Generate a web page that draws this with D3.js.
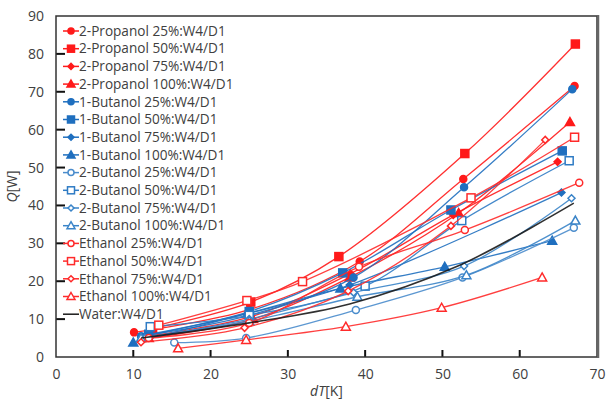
<!DOCTYPE html>
<html>
<head>
<meta charset="utf-8">
<script src="https://cdn.jsdelivr.net/npm/d3@7"></script>
<style>
  body { margin: 0; background: #fff; }
  text { font-family: "Open Sans", "Liberation Sans", sans-serif; }
</style>
</head>
<body>
<div id="chart-area"></div>
<script>
// series names, in legend order
var seriesNames = [
    "2-Propanol 25%:W4/D1", "2-Propanol 50%:W4/D1", "2-Propanol 75%:W4/D1", "2-Propanol 100%:W4/D1",
    "1-Butanol 25%:W4/D1", "1-Butanol 50%:W4/D1", "1-Butanol 75%:W4/D1", "1-Butanol 100%:W4/D1",
    "2-Butanol 25%:W4/D1", "2-Butanol 50%:W4/D1", "2-Butanol 75%:W4/D1", "2-Butanol 100%:W4/D1",
    "Ethanol 25%:W4/D1", "Ethanol 50%:W4/D1", "Ethanol 75%:W4/D1", "Ethanol 100%:W4/D1",
    "Water:W4/D1"
];

// dT [K] values, one array per series
var dT = [
    [10.1, 25.0, 39.3, 52.7, 67.1],
    [12.5, 25.2, 36.6, 52.9, 67.2],
    [11.5, 25.0, 38.1, 51.4, 64.9],
    [12.0, 25.5, 38.0, 52.1, 66.5],
    [11.0, 25.0, 38.5, 52.8, 66.8],
    [12.0, 25.0, 37.1, 51.1, 65.5],
    [11.5, 24.8, 38.0, 65.4],
    [10.0, 24.8, 36.8, 50.3, 64.2],
    [15.3, 24.6, 38.8, 52.6, 67.0],
    [12.2, 25.0, 40.0, 52.5, 66.4],
    [11.5, 25.0, 38.5, 52.8, 66.7],
    [11.0, 25.0, 39.0, 53.1, 67.2],
    [12.0, 25.0, 39.2, 52.9, 67.7],
    [13.3, 24.7, 31.9, 53.7, 67.1],
    [11.0, 24.4, 37.8, 51.1, 63.3],
    [15.8, 24.6, 37.5, 49.9, 62.9],
    [11.0, 25.0, 38.0, 52.0, 67.0]
];

// Q [W] values
var Q = [
    [6.5, 12.5, 25.2, 47.0, 71.5],
    [7.5, 14.5, 26.5, 53.7, 82.6],
    [5.5, 10.5, 22.0, 37.5, 51.5],
    [5.0, 10.0, 21.0, 38.0, 62.0],
    [5.5, 11.0, 21.0, 44.8, 70.7],
    [6.0, 12.0, 22.2, 38.8, 54.4],
    [5.5, 11.5, 19.0, 43.4],
    [3.8, 11.5, 18.1, 23.8, 30.7],
    [3.8, 5.0, 12.4, 21.0, 34.1],
    [8.0, 11.0, 18.7, 36.0, 51.8],
    [5.0, 10.0, 17.0, 24.0, 41.9],
    [5.0, 9.5, 15.9, 21.6, 36.0],
    [5.0, 9.0, 23.8, 33.5, 46.0],
    [8.4, 14.9, 19.9, 42.0, 58.0],
    [3.9, 7.7, 17.4, 34.6, 57.3],
    [2.3, 4.5, 8.0, 13.0, 21.0],
    [5.0, 9.0, 14.0, 24.0, 40.6]
];

var markerShapes = ["circle", "square", "diamond", "triangle",
    "circle", "square", "diamond", "triangle",
    "circle", "square", "diamond", "triangle",
    "circle", "square", "diamond", "triangle", "none"];
var markerFilled = [true, true, true, true, true, true, true, true,
    false, false, false, false, false, false, false, false, false];
var seriesColors = ["#ff1a1a", "#ff1a1a", "#ff1a1a", "#ff1a1a",
    "#1f6fbf", "#1f6fbf", "#1f6fbf", "#1f6fbf",
    "#4a8ccc", "#2f7bc4", "#3a84c8", "#3a84c8",
    "#ff2a2a", "#ff2a2a", "#ff2a2a", "#ff2a2a", "#1a1a1a"];

var xTicks = [0, 10, 20, 30, 40, 50, 60, 70];
var yTicks = [0, 10, 20, 30, 40, 50, 60, 70, 80, 90];

var data = seriesNames.map(function (name, i) {
    return {
        name: name,
        shape: markerShapes[i],
        filled: markerFilled[i],
        color: seriesColors[i],
        points: dT[i].map(function (x, j) { return { x: x, y: Q[i][j] }; })
    };
});

var margin = { left: 56, right: 10, top: 16, bottom: 43 };
var fullW = 607, fullH = 400;
var width = fullW - margin.left - margin.right;
var height = fullH - margin.top - margin.bottom;

var svg = d3.select("#chart-area").append("svg")
    .attr("width", fullW)
    .attr("height", fullH);

var g = svg.append("g")
    .attr("transform", `translate(${margin.left}, ${margin.top})`);

var x = d3.scaleLinear().domain([0, 70]).range([0, width]);
var y = d3.scaleLinear().domain([0, 90]).range([height, 0]);

// axes with inside ticks
var xAxis = g.append("g")
    .attr("transform", `translate(0, ${height})`)
    .call(d3.axisBottom(x).tickValues(xTicks).tickSize(0).tickPadding(12));
var yAxis = g.append("g")
    .call(d3.axisLeft(y).tickValues(yTicks).tickSize(0).tickPadding(12));
[xAxis, yAxis].forEach(function (a) {
    a.select(".domain").remove();
    a.selectAll("text").attr("font-size", "14px").attr("fill", "#404040")
        .style("font-family", "'Open Sans', sans-serif");
});

g.selectAll(".xtick")
    .data(xTicks.slice(1, -1))
    .enter().append("line")
    .attr("x1", function (d) { return x(d); })
    .attr("x2", function (d) { return x(d); })
    .attr("y1", height)
    .attr("y2", height - 7)
    .attr("stroke", "#111")
    .attr("stroke-width", 2);

g.selectAll(".ytick")
    .data(yTicks.slice(1, -1))
    .enter().append("line")
    .attr("x1", 0)
    .attr("x2", 9)
    .attr("y1", function (d) { return y(d); })
    .attr("y2", function (d) { return y(d); })
    .attr("stroke", "#111")
    .attr("stroke-width", 2);

// frame
g.append("rect")
    .attr("width", width)
    .attr("height", height)
    .attr("fill", "none")
    .attr("stroke", "#333")
    .attr("stroke-width", 1.5);
g.append("line")
    .attr("x1", width + 1).attr("x2", width + 1)
    .attr("y1", -1).attr("y2", height + 1)
    .attr("stroke", "#666").attr("stroke-width", 2.5);

// axis titles
svg.append("text")
    .attr("transform", `translate(17, ${margin.top + height / 2}) rotate(-90)`)
    .attr("text-anchor", "middle")
    .attr("font-size", "14px")
    .attr("fill", "#404040")
    .html("<tspan font-style='italic'>Q</tspan>[W]");
svg.append("text")
    .attr("x", margin.left + width / 2)
    .attr("y", 396)
    .attr("text-anchor", "middle")
    .attr("font-size", "14px")
    .attr("fill", "#404040")
    .html("<tspan font-style='italic'>dT</tspan>[K]");

// marker drawing helper
function drawMarker(sel, shape, filled, color, size) {
    var s = size / 2;
    var fill = filled ? color : "#fff";
    if (shape === "circle") {
        sel.append("circle").attr("r", s).attr("fill", fill).attr("stroke", color).attr("stroke-width", 1.5);
    } else if (shape === "square") {
        sel.append("rect").attr("x", -s).attr("y", -s).attr("width", size).attr("height", size)
            .attr("fill", fill).attr("stroke", color).attr("stroke-width", 1.5);
    } else if (shape === "diamond") {
        sel.append("path").attr("d", `M0,${-s}L${s},0L0,${s}L${-s},0Z`)
            .attr("fill", fill).attr("stroke", color).attr("stroke-width", 1.5);
    } else if (shape === "triangle") {
        sel.append("path").attr("d", `M0,${-s - 1}L${s + 1},${s}L${-s - 1},${s}Z`)
            .attr("fill", fill).attr("stroke", color).attr("stroke-width", 1.5);
    }
}

var line = d3.line()
    .x(function (d) { return x(d.x); })
    .y(function (d) { return y(d.y); })
    .curve(d3.curveCatmullRom.alpha(0.5));

// series
data.forEach(function (s) {
    var sg = g.append("g");
    sg.append("path")
        .datum(s.points)
        .attr("d", line)
        .attr("fill", "none")
        .attr("stroke", s.color)
        .attr("stroke-width", s.shape === "none" ? 1.6 : 1.3)
        .attr("stroke-opacity", 0.9);
    if (s.shape !== "none") {
        sg.selectAll(".pt")
            .data(s.points)
            .enter().append("g")
            .attr("transform", function (d) { return `translate(${x(d.x)}, ${y(d.y)})`; })
            .each(function () {
                drawMarker(d3.select(this), s.shape, s.filled, s.color, s.shape === "square" ? 8 : 7);
            });
    }
});

// legend
var legend = svg.append("g")
    .attr("transform", "translate(71, 31)");
var rows = legend.selectAll(".row")
    .data(data)
    .enter().append("g")
    .attr("transform", function (d, i) { return `translate(0, ${i * 17.7})`; });
rows.append("line")
    .attr("x1", -8).attr("x2", 8)
    .attr("stroke", function (d) { return d.color; })
    .attr("stroke-width", 1.5);
rows.each(function (d) {
    drawMarker(d3.select(this), d.shape, d.filled, d.color, d.shape === "square" ? 7 : 6);
});
rows.append("text")
    .attr("x", 8)
    .attr("dy", "0.35em")
    .attr("font-size", "13.6px")
    .attr("fill", "#404040")
    .text(function (d) { return d.name; });
</script>
</body>
</html>
